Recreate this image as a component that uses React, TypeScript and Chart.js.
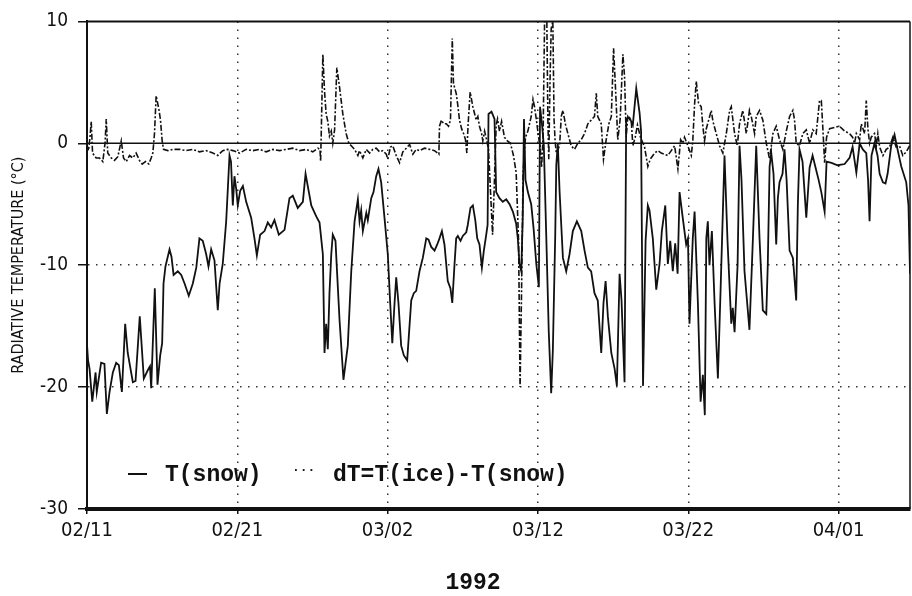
import React, { useEffect, useRef } from 'react';
import { Chart, registerables } from 'chart.js';

Chart.register(...registerables);

// Days since 02/11/1992 00:00 and radiative temperature of the snow surface (°C)
const snowDays = [
  0, 0.07, 0.17, 0.35, 0.57, 0.65, 0.94, 1.16, 1.32, 1.5, 1.72, 1.94, 2.12, 2.32, 2.54, 2.71, 3.05, 3.23, 3.51, 3.78,
  4.05, 4.19, 4.27, 4.51, 4.69, 4.87, 5.0, 5.09, 5.22, 5.49, 5.62, 5.76, 6.04, 6.27, 6.49, 6.77, 7.04, 7.27, 7.48, 7.7,
  7.93, 8.08, 8.26, 8.48, 8.7, 8.82, 9.03, 9.26, 9.48, 9.58, 9.7, 9.81, 9.93, 10.03, 10.19, 10.37, 10.59, 10.92, 11.14, 11.3,
  11.52, 11.81, 12.03, 12.25, 12.47, 12.76, 13.14, 13.47, 13.69, 14.02, 14.36, 14.54, 14.76, 14.92, 15.25, 15.47, 15.69, 15.8, 15.91, 16.02,
  16.13, 16.25, 16.35, 16.53, 16.62, 16.8, 17.06, 17.35, 17.58, 17.8, 18.02, 18.13, 18.24, 18.35, 18.58, 18.68, 18.91, 19.06, 19.24, 19.39,
  19.57, 19.79, 20.01, 20.17, 20.31, 20.46, 20.57, 20.72, 20.9, 21.08, 21.3, 21.41, 21.57, 21.74, 21.9, 22.12, 22.34, 22.57, 22.72, 22.9,
  23.12, 23.3, 23.45, 23.61, 23.78, 24.0, 24.18, 24.3, 24.45, 24.56, 24.67, 24.85, 25.0, 25.23, 25.33, 25.51, 25.67, 25.83, 25.96, 26.11,
  26.27, 26.4, 26.56, 26.65, 26.71, 26.91, 27.11, 27.22, 27.44, 27.66, 27.89, 28.11, 28.33, 28.55, 28.66, 28.77, 28.89, 28.99, 29.07, 29.17,
  29.33, 29.55, 29.71, 29.89, 30.06, 30.14, 30.28, 30.39, 30.55, 30.72, 30.88, 30.99, 31.15, 31.22, 31.32, 31.44, 31.66, 31.88, 32.1, 32.32,
  32.59, 32.88, 33.1, 33.32, 33.54, 33.76, 33.98, 34.21, 34.36, 34.5, 34.65, 34.88, 35.1, 35.25, 35.43, 35.56, 35.76, 35.87, 36.09, 36.31,
  36.54, 36.76, 36.86, 36.99, 37.16, 37.31, 37.42, 37.64, 37.87, 38.09, 38.24, 38.47, 38.64, 38.8, 38.97, 39.13, 39.29, 39.42, 39.62, 39.86,
  39.98, 40.08, 40.3, 40.42, 40.64, 40.82, 40.97, 41.1, 41.2, 41.3, 41.41, 41.57, 41.75, 41.97, 42.15, 42.41, 42.61, 42.86, 42.96, 43.08,
  43.28, 43.41, 43.54, 43.74, 44.07, 44.3, 44.52, 44.74, 44.96, 45.19, 45.29, 45.41, 45.52, 45.67, 45.85, 45.96, 46.07, 46.27, 46.4, 46.54,
  46.74, 46.96, 47.18, 47.29, 47.4, 47.6, 47.85, 48.07, 48.27, 48.47, 48.67, 48.85, 49.07, 49.2, 49.53, 49.93, 50.4, 50.73, 50.93, 51.18,
  51.4, 51.61, 51.84, 51.96, 52.06, 52.19, 52.39, 52.59, 52.73, 52.95, 53.12, 53.26, 53.5, 53.72, 53.92, 54.17, 54.5, 54.65, 54.75,
];
const snowTemps = [
  -16.5, -17.8, -18.5, -21.2, -18.8, -20.4, -18.0, -18.1, -22.2, -20.4, -18.8, -18.0, -18.2, -20.4, -14.8, -17.2, -19.6, -19.5, -14.2, -19.3,
  -18.6, -18.3, -20.1, -11.9, -19.8, -17.4, -16.4, -11.5, -10.1, -8.7, -9.3, -10.8, -10.5, -10.8, -11.5, -12.5, -11.5, -10.2, -7.8, -8.0,
  -9.1, -10.1, -8.7, -9.6, -13.7, -11.5, -9.9, -6.4, -1.0, -1.5, -5.1, -2.7, -3.8, -5.1, -3.9, -3.5, -4.8, -6.1, -7.8, -9.2,
  -7.5, -7.2, -6.5, -6.9, -6.3, -7.5, -7.1, -4.5, -4.3, -5.3, -4.8, -2.5, -4.0, -5.1, -6.0, -6.5, -9.1, -17.2, -14.8, -16.9,
  -12.3, -9.1, -7.5, -8.0, -10.2, -14.5, -19.4, -16.6, -10.5, -6.4, -4.6, -6.4, -5.5, -7.2, -5.7, -6.3, -4.5, -4.0, -2.7, -2.1,
  -3.2, -6.1, -9.1, -13.1, -16.4, -13.1, -11.0, -13.1, -16.6, -17.4, -17.8, -15.8, -12.9, -12.3, -12.1, -10.5, -9.4, -7.8, -7.9, -8.5,
  -8.8, -8.3, -7.8, -7.2, -8.3, -11.3, -11.9, -13.1, -9.9, -7.8, -7.6, -8.0, -7.6, -7.3, -6.7, -5.3, -5.1, -6.3, -7.8, -8.3,
  -10.2, -8.8, -7.5, -6.7, 2.4, 2.6, 2.0, -4.0, -4.5, -4.8, -4.6, -5.0, -5.6, -6.6, -7.8, -9.9, -10.5, -6.0, 2.0, -3.0,
  -4.0, -5.0, -7.0, -9.9, -11.8, 3.0, 1.4, -0.2, -7.5, -15.5, -20.5, -17.0, -7.5, -1.8, 0.0, -4.0, -9.4, -10.5, -9.1, -7.2,
  -6.4, -7.2, -8.8, -10.2, -10.5, -12.3, -12.9, -17.2, -13.1, -11.3, -14.2, -17.2, -18.5, -19.9, -10.7, -12.9, -19.6, 2.0, 2.1, 1.5,
  4.5, 2.5, 1.0, -19.9, -8.0, -5.1, -5.5, -7.8, -12.0, -9.9, -7.2, -5.1, -9.9, -8.0, -10.5, -8.2, -10.7, -4.0, -6.0, -8.3,
  -7.8, -14.8, -7.8, -5.6, -13.1, -21.2, -19.0, -22.3, -7.8, -6.4, -10.0, -7.2, -13.1, -19.3, -12.0, -1.0, -8.0, -14.8, -13.5, -15.5,
  -10.0, -0.2, -3.0, -10.5, -15.3, -7.8, -0.2, -7.8, -13.7, -14.0, -9.9, -1.9, -0.8, -2.5, -8.3, -4.5, -3.2, -2.5, -0.5, -3.0,
  -8.8, -9.4, -12.9, -5.0, -0.5, -1.5, -6.1, -2.0, -1.0, -2.0, -3.0, -4.0, -5.6, -1.5, -1.6, -1.8, -1.7, -1.2, -0.3, -2.4,
  0.0, -0.5, -0.8, -3.0, -6.4, -1.0, 0.0, -1.0, -2.5, -3.2, -3.3, -2.5, -0.2, 0.7, -0.5, -1.9, -3.2, -5.1, -10.7,
];

// Days since 02/11/1992 and dT = T(ice) - T(snow) (°C)
const dtDays = [
  0, 0.1, 0.2, 0.28, 0.37, 0.61, 0.83, 1.05, 1.2, 1.28, 1.38, 1.61, 1.83, 2.05, 2.28, 2.43, 2.61, 2.83, 3.05, 3.27,
  3.49, 3.67, 3.89, 4.11, 4.27, 4.38, 4.49, 4.6, 4.78, 4.89, 5.0, 5.09, 5.38, 5.71, 6.15, 6.6, 7.04, 7.48, 7.93, 8.37,
  8.7, 9.03, 9.35, 9.7, 10.15, 10.59, 11.03, 11.48, 11.92, 12.36, 12.81, 13.25, 13.69, 14.14, 14.58, 15.02, 15.36, 15.5, 15.54, 15.58,
  15.69, 15.8, 15.91, 16.02, 16.13, 16.25, 16.35, 16.47, 16.62, 16.8, 17.02, 17.24, 17.42, 17.58, 17.8, 18.02, 18.13, 18.35, 18.58, 18.8,
  19.01, 19.24, 19.46, 19.68, 19.91, 20.01, 20.19, 20.34, 20.57, 20.79, 21.01, 21.24, 21.46, 21.68, 21.9, 22.12, 22.45, 22.79, 23.12, 23.41,
  23.45, 23.58, 23.72, 23.9, 24.05, 24.18, 24.3, 24.38, 24.56, 24.67, 24.78, 24.92, 25.05, 25.18, 25.27, 25.35, 25.49, 25.67, 25.89, 26.0,
  26.11, 26.25, 26.33, 26.45, 26.58, 26.71, 26.98, 27.08, 27.22, 27.31, 27.44, 27.58, 27.77, 27.97, 28.17, 28.37, 28.55, 28.71, 28.81, 28.91,
  29.01, 29.17, 29.33, 29.55, 29.67, 29.77, 29.91, 30.04, 30.14, 30.24, 30.34, 30.44, 30.59, 30.66, 30.72, 30.8, 30.88, 30.99, 31.07, 31.14,
  31.22, 31.44, 31.55, 31.66, 31.84, 31.99, 32.21, 32.43, 32.65, 32.88, 33.1, 33.32, 33.54, 33.76, 33.88, 33.98, 34.21, 34.36, 34.54, 34.72,
  34.88, 35.03, 35.16, 35.31, 35.47, 35.65, 35.76, 35.87, 35.98, 36.21, 36.31, 36.47, 36.62, 36.82, 37.09, 37.31, 37.47, 37.76, 37.98, 38.2,
  38.42, 38.64, 38.87, 39.09, 39.31, 39.49, 39.64, 39.75, 39.97, 40.2, 40.3, 40.42, 40.53, 40.68, 40.86, 40.97, 41.08, 41.2, 41.42, 41.53,
  41.64, 41.86, 42.08, 42.3, 42.53, 42.75, 42.86, 43.08, 43.26, 43.41, 43.63, 43.86, 44.07, 44.19, 44.41, 44.52, 44.74, 44.96, 45.19, 45.41,
  45.63, 45.85, 46.07, 46.29, 46.52, 46.74, 46.96, 47.07, 47.18, 47.4, 47.62, 47.85, 48.07, 48.29, 48.51, 48.73, 48.85, 48.95, 49.07, 49.2,
  49.4, 49.73, 50.06, 50.4, 50.73, 50.93, 51.06, 51.18, 51.4, 51.51, 51.73, 51.84, 51.95, 52.06, 52.17, 52.39, 52.51, 52.61, 52.73, 52.95,
  53.17, 53.39, 53.61, 53.83, 54.05, 54.27, 54.5, 54.73,
];
const dtValues = [
  -0.1, -0.6, 0.5, 1.8, -0.8, -1.2, -1.2, -1.5, 0.0, 2.0, -0.8, -1.2, -1.4, -1.1, 0.2, -1.2, -1.5, -1.0, -1.2, -0.8,
  -1.4, -1.7, -1.5, -1.7, -1.2, -0.8, 0.8, 3.9, 2.8, 1.9, 0.2, -0.5, -0.6, -0.5, -0.5, -0.6, -0.5, -0.7, -0.6, -0.8,
  -1.0, -0.6, -0.5, -0.6, -0.8, -0.5, -0.6, -0.5, -0.7, -0.5, -0.6, -0.5, -0.4, -0.6, -0.5, -0.7, -0.4, -0.5, -1.5, 0.6,
  7.3, 4.3, 2.4, 1.8, 0.6, 1.0, 0.0, 1.1, 6.2, 4.6, 2.4, 0.8, 0.0, -0.2, -0.5, -1.0, -0.6, -1.2, -0.5, -0.8,
  -0.5, -0.4, -0.7, -0.6, -0.9, -1.3, -0.3, -0.2, -1.0, -1.6, -0.7, -0.4, -0.1, -0.9, -0.5, -0.6, -0.4, -0.5, -0.6, -0.9,
  1.4, 1.9, 1.6, 1.6, 1.4, 1.9, 8.6, 4.9, 4.1, 3.1, 1.9, 1.2, 0.8, 0.3, -0.8, 1.5, 4.2, 3.0, 1.9, 2.2,
  1.4, 0.8, 0.2, 1.0, 0.3, -0.5, -7.5, -4.0, 1.5, 2.0, 1.0, 1.8, 0.5, 0.2, 0.0, -1.0, -2.4, -8.0, -20.0, -12.0,
  -2.4, 0.5, 1.0, 2.2, 3.6, 3.0, 1.8, 0.5, -0.2, -2.0, 0.5, 10.0, 10.0, 2.0, -1.3, 5.0, 9.4, 10.0, 2.0, 0.2,
  -0.8, -0.2, 2.2, 2.7, 1.5, 0.8, -0.2, -0.5, 0.0, 0.3, 0.8, 1.6, 1.9, 2.2, 4.1, 2.2, 1.6, -1.3, 0.3, 1.6,
  2.2, 7.8, 4.5, 0.3, 2.0, 7.3, 5.5, 0.5, 2.2, 1.8, -0.2, 0.5, 1.5, 0.5, -0.3, -1.9, -1.3, -0.8, -0.6, -0.8,
  -0.9, -1.0, -0.6, -0.2, -2.1, 0.3, 0.0, 0.5, -0.2, -1.0, 0.2, 3.2, 5.1, 3.3, 3.0, 1.4, 0.2, 1.2, 2.2, 2.7,
  1.8, 0.8, -0.2, -0.8, 0.8, 2.7, 3.0, 0.8, -0.2, 1.6, 2.7, 0.8, 2.7, 2.2, 0.8, 2.2, 2.7, 1.9, 0.0, -1.3,
  0.8, 1.4, 0.3, -0.5, 1.0, 2.2, 2.7, 1.9, 0.0, -0.2, 0.8, 1.1, 0.0, 1.1, 0.8, 3.5, 3.5, 1.3, -1.6, 0.5,
  1.2, 1.3, 1.4, 1.0, 0.8, 0.5, 0.0, 0.8, 0.3, 1.6, 0.8, 3.5, 1.2, 0.0, 0.5, 0.8, -0.2, 0.8, -0.3, -1.0,
  -0.5, -0.3, 0.5, -0.3, -0.2, -1.0, -0.7, -0.2,
];

const zeroLineDays = [0, 54.75];
const zeroLineValues = [0, 0];

const xTickDays = [0, 10, 20, 30, 40, 50];
const xTickLabels = ['02/11', '02/21', '03/02', '03/12', '03/22', '04/01'];
const yTickValues = [10, 0, -10, -20, -30];
const yTickLabels = ['10', '0', '-10', '-20', '-30'];
const legendLabels = ['T(snow)', 'dT=T(ice)-T(snow)'];
const legendDots = '\u00b7\u00b7\u00b7';
const yearLabel = '1992';
const yAxisTitle = 'RADIATIVE TEMPERATURE (°C)';

const NARROW = "'Liberation Sans Narrow', 'DejaVu Sans Condensed', 'Roboto Condensed', sans-serif";
const MONO = "'Liberation Mono', 'DejaVu Sans Mono', monospace";
const INK = '#111';

const toPoints = (xs: number[], ys: number[]) => xs.map((x, i) => ({ x, y: ys[i] }));

const framePlugin = {
  id: 'frameAndLegend',
  afterDraw(chart: any) {
    const { ctx, chartArea } = chart;
    const { left, right, top, bottom } = chartArea;
    ctx.save();
    ctx.strokeStyle = INK;
    ctx.setLineDash([]);
    ctx.lineWidth = 2;
    ctx.beginPath();
    ctx.moveTo(left, top);
    ctx.lineTo(right, top);
    ctx.stroke();
    ctx.lineWidth = 1.5;
    ctx.beginPath();
    ctx.moveTo(right, top);
    ctx.lineTo(right, bottom);
    ctx.stroke();

    // legend inside the plot, bottom-left
    const ly = bottom - 35;
    ctx.lineWidth = 2;
    ctx.beginPath();
    ctx.moveTo(left + 41, ly);
    ctx.lineTo(left + 60, ly);
    ctx.stroke();
    ctx.fillStyle = INK;
    ctx.textBaseline = 'middle';
    ctx.textAlign = 'left';
    ctx.font = `bold 23px ${MONO}`;
    ctx.fillText(legendLabels[0], left + 78, ly + 1);
    ctx.fillText(legendLabels[1], left + 246, ly + 1);
    ctx.font = `bold 13px ${MONO}`;
    ctx.fillText(legendDots, left + 205, ly - 3);

    // year under the axis
    ctx.textAlign = 'center';
    ctx.font = `bold 23px ${MONO}`;
    ctx.fillText(yearLabel, left + 386, bottom + 74);
    ctx.restore();
  },
};

export default function App() {
  const canvasRef = useRef<HTMLCanvasElement | null>(null);

  useEffect(() => {
    if (!canvasRef.current) return;
    const chart = new Chart(canvasRef.current, {
      type: 'line',
      data: {
        datasets: [
          {
            label: 'zero',
            data: toPoints(zeroLineDays, zeroLineValues),
            borderColor: INK,
            borderWidth: 1.5,
            pointRadius: 0,
          },
          {
            label: legendLabels[1],
            data: toPoints(dtDays, dtValues),
            borderColor: INK,
            borderWidth: 1.6,
            borderDash: [6, 2, 2, 2],
            pointRadius: 0,
            tension: 0,
          },
          {
            label: legendLabels[0],
            data: toPoints(snowDays, snowTemps),
            borderColor: INK,
            borderWidth: 1.8,
            pointRadius: 0,
            tension: 0,
          },
        ],
      },
      options: {
        responsive: false,
        animation: false,
        events: [],
        layout: { padding: { top: 13, right: 2, left: 0, bottom: 0 } },
        plugins: { legend: { display: false }, tooltip: { enabled: false }, title: { display: false } },
        scales: {
          x: {
            type: 'linear',
            min: 0,
            max: 54.75,
            afterFit: (s: any) => {
              s.height = 87;
            },
            ticks: {
              stepSize: 10,
              includeBounds: false,
              autoSkip: false,
              maxRotation: 0,
              padding: 5,
              color: INK,
              font: { family: NARROW, size: 20 },
              callback: (v: any) => {
                const i = xTickDays.indexOf(Number(v));
                return i >= 0 ? xTickLabels[i] : '';
              },
            },
            grid: {
              color: (c: any) => (c.tick && c.tick.value === 0 ? 'rgba(0,0,0,0)' : '#333'),
              lineWidth: 1.5,
              tickColor: INK,
              tickLength: 5,
              tickWidth: 1.5,
            },
            border: { display: true, color: INK, width: 4, dash: [1.5, 6.5] },
          },
          y: {
            type: 'linear',
            min: -30,
            max: 10,
            afterFit: (s: any) => {
              s.width = 87;
            },
            title: {
              display: true,
              text: yAxisTitle,
              color: INK,
              font: { family: NARROW, size: 16 },
              padding: { top: 9, bottom: 0 },
            },
            ticks: {
              stepSize: 10,
              padding: 10,
              color: INK,
              font: { family: NARROW, size: 19 },
              callback: (v: any) => {
                const i = yTickValues.indexOf(Number(v));
                return i >= 0 ? yTickLabels[i] : '';
              },
            },
            grid: {
              color: (c: any) =>
                c.tick && (c.tick.value === 10 || c.tick.value === 0 || c.tick.value === -30) ? 'rgba(0,0,0,0)' : '#333',
              lineWidth: 1.5,
              tickColor: INK,
              tickLength: 9,
              tickWidth: 1.5,
            },
            border: { display: true, color: INK, width: 2, dash: [1.5, 6.5] },
          },
        },
      },
      plugins: [framePlugin],
    });
    return () => chart.destroy();
  }, []);

  return (
    <div style={{ position: 'absolute', left: 0, top: 0, width: 912, height: 596, background: '#fff' }}>
      <canvas ref={canvasRef} width={912} height={596} />
    </div>
  );
}
